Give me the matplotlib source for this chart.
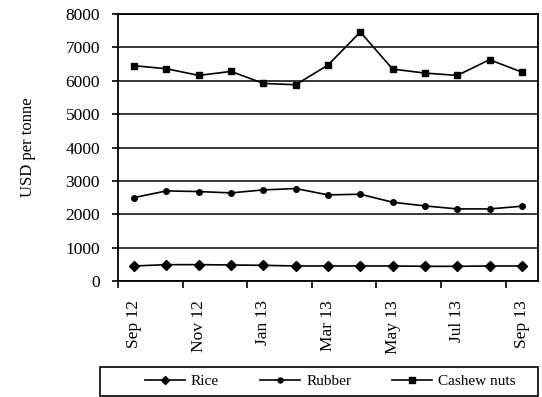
import matplotlib
matplotlib.use("Agg")
import matplotlib.pyplot as plt
from matplotlib.patches import Rectangle
import numpy as np

plt.rcParams['font.family'] = ['Liberation Serif', 'DejaVu Serif']

months = ["Sep 12", "Oct 12", "Nov 12", "Dec 12", "Jan 13", "Feb 13", "Mar 13",
          "Apr 13", "May 13", "Jun 13", "Jul 13", "Aug 13", "Sep 13"]
rice = [450, 490, 490, 480, 470, 450, 450, 450, 450, 440, 440, 450, 450]
rubber = [2500, 2700, 2680, 2640, 2730, 2770, 2580, 2600, 2360, 2250, 2160, 2160, 2240]
cashew = [6450, 6360, 6160, 6280, 5920, 5880, 6470, 7460, 6350, 6230, 6160, 6630, 6260]

W, H = 542, 397
fig = plt.figure(figsize=(W / 100, H / 100), dpi=100)
ax = fig.add_axes([118 / W, 1 - 281 / H, 420 / W, 267 / H])

x = np.arange(len(months))
ax.plot(x, rice, color='black', lw=1.2, marker='D', ms=5, label='Rice')
ax.plot(x, rubber, color='black', lw=1.2, marker='o', ms=4, label='Rubber')
ax.plot(x, cashew, color='black', lw=1.2, marker='s', ms=5, label='Cashew nuts')

ax.set_xlim(-0.5, len(months) - 0.5)
ax.set_ylim(0, 8000)
ax.set_yticks(np.arange(0, 8001, 1000))
ax.yaxis.grid(True, color='black', lw=1.1)
ax.set_axisbelow(True)

fs = 12.5
# category labels every second month, ticks between categories
ax.set_xticks(x[::2])
ax.set_xticklabels(months[::2], rotation=90, fontsize=fs)
ax.tick_params(axis='x', which='major', length=0, pad=14)
ax.set_xticks(np.arange(-0.5, len(months), 2), minor=True)
ax.tick_params(axis='x', which='minor', length=5, width=1.2, direction='out')
ax.tick_params(axis='y', length=4, width=1.2, direction='out', labelsize=fs, pad=9)

for s in ax.spines.values():
    s.set_color('black')
    s.set_linewidth(1.3)

ax.set_ylabel('USD per tonne', fontsize=12, labelpad=21)

# legend box spanning the lower strip
fig.add_artist(Rectangle((100 / W, 1 / H), 438 / W, 29 / H, transform=fig.transFigure,
                         fill=False, edgecolor='black', lw=1.2))
fig.legend(loc='center left', ncol=3, bbox_to_anchor=(145 / W, 1 - 381.5 / H),
           frameon=False, fontsize=11, handlelength=2.6, handletextpad=0.4,
           columnspacing=2.7, borderpad=0, borderaxespad=0, markerscale=0.9)

fig.savefig('out.png', dpi=100)
